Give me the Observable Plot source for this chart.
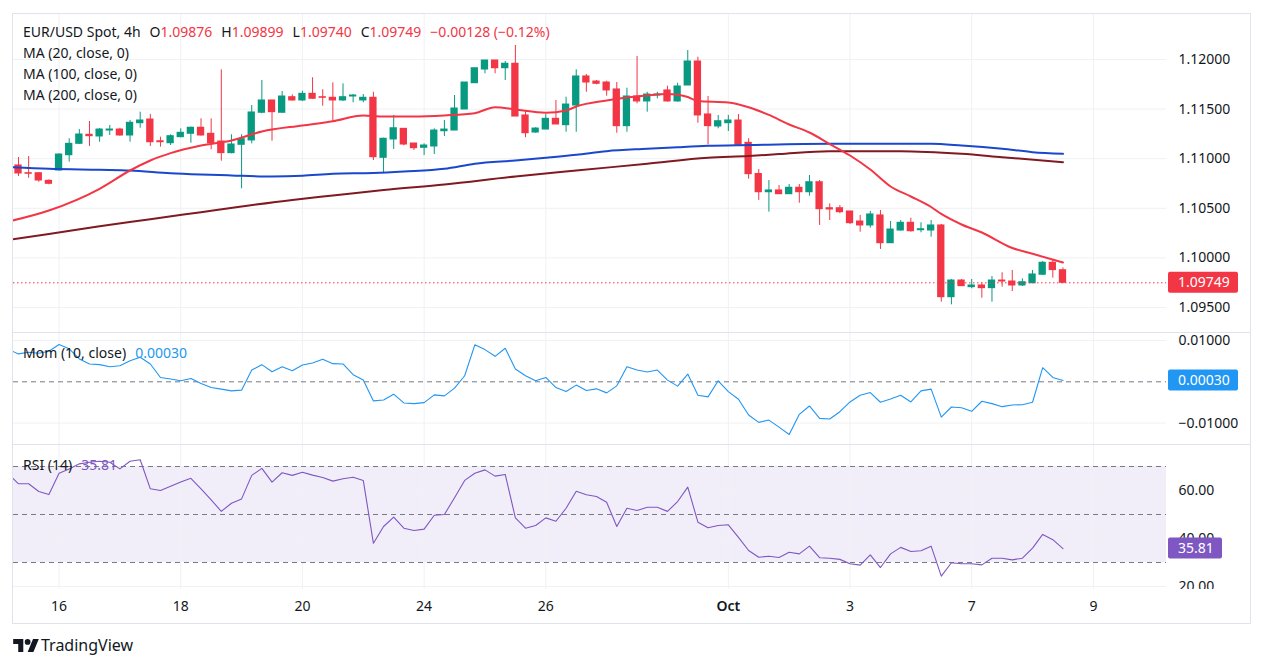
<!DOCTYPE html>
<html>
<head>
<meta charset="utf-8">
<script src="https://cdn.jsdelivr.net/npm/d3@7"></script>
<script src="https://cdn.jsdelivr.net/npm/@observablehq/plot@0.6"></script>
<style>
  html, body { margin: 0; padding: 0; background: #ffffff; }
  body { font-family: "Noto Sans", "Open Sans", "DejaVu Sans", sans-serif; color: #131722; }
  #root { position: relative; width: 1263px; height: 668px; overflow: hidden; }
  .frame { position: absolute; left: 12px; top: 13px; width: 1239px; height: 611px; box-sizing: border-box; border: 1px solid #e0e3eb; }
  .sep { position: absolute; left: 12px; width: 1239px; height: 1px; background: #e0e3eb; }
  .pane { position: absolute; left: 12px; width: 1238px; }
  .pane svg { display: block; }
  .lg { position: absolute; left: 23px; font-size: 14px; line-height: 20px; white-space: pre; color: #131722; }
  .gap { display: inline-block; width: 9px; }
  .logo { position: absolute; left: 13px; top: 639px; }
  .brand { position: absolute; left: 41px; top: 635px; font-size: 16px; line-height: 20px; color: #131722; }
</style>
</head>
<body>
<div id="root">
  <div class="frame"></div>
</div>
<script>
// ---------------- DATA ----------------
const priceTicks = [1.095, 1.100, 1.105, 1.110, 1.115, 1.120];
const momTicks = [-0.01, 0.01];
const rsiTicks = [20, 40, 60];
const rsiLevels = [30, 50, 70];
const rsiBand = [30, 70];
const tickIdx = [4, 16, 28, 40, 52, 70, 82, 94, 106];
const tickLabels = ["16", "18", "20", "24", "26", "Oct", "3", "7", "9"];

const opens = [1.10932,1.10854,1.10854,1.10777,1.10881,1.11035,1.11150,1.11241,1.11224,1.11284,
1.11294,1.11234,1.11358,1.11395,1.11176,1.11156,1.11217,1.11251,1.11312,1.11251,
1.11173,1.11056,1.11140,1.11184,1.11463,1.11587,1.11463,1.11620,1.11587,1.11654,
1.11620,1.11614,1.11587,1.11627,1.11587,1.11614,1.11009,1.11194,1.11301,1.11153,
1.11110,1.11123,1.11277,1.11284,1.11496,1.11761,1.11899,1.11990,1.11912,1.11957,
1.11436,1.11264,1.11294,1.11402,1.11338,1.11536,1.11829,1.11778,1.11768,1.11698,
1.11328,1.11627,1.11577,1.11637,1.11688,1.11577,1.11738,1.11980,1.11446,1.11325,
1.11358,1.11385,1.11160,1.10846,1.10662,1.10680,1.10642,1.10707,1.10662,1.10763,
1.10501,1.10501,1.10468,1.10367,1.10327,1.10428,1.10148,1.10276,1.10354,1.10279,
1.10276,1.10327,1.09604,1.09772,1.09705,1.09722,1.09695,1.09772,1.09762,1.09722,
1.09745,1.09830,1.09951,1.09876];
const highs = [1.11012,1.11022,1.10861,1.10787,1.11049,1.11201,1.11294,1.11375,1.11304,1.11335,
1.11307,1.11385,1.11469,1.11446,1.11217,1.11241,1.11301,1.11318,1.11402,1.11402,
1.11896,1.11241,1.11241,1.11536,1.11788,1.11587,1.11677,1.11644,1.11680,1.11816,
1.11695,1.11765,1.11755,1.11647,1.11647,1.11670,1.11207,1.11436,1.11301,1.11153,
1.11150,1.11301,1.11385,1.11637,1.11768,1.11912,1.11990,1.11990,1.11980,1.12141,
1.11486,1.11312,1.11446,1.11587,1.11620,1.11896,1.11849,1.11788,1.11781,1.11768,
1.11711,1.12030,1.11670,1.11670,1.11731,1.11761,1.12091,1.12023,1.11627,1.11436,
1.11436,1.11446,1.11201,1.10891,1.10780,1.10730,1.10740,1.10740,1.10831,1.10780,
1.10545,1.10528,1.10468,1.10428,1.10468,1.10478,1.10367,1.10377,1.10400,1.10354,
1.10377,1.10337,1.09782,1.09782,1.09782,1.09745,1.09813,1.09850,1.09873,1.09789,
1.09873,1.09964,1.09974,1.09899];
const lows = [1.10821,1.10803,1.10763,1.10737,1.10874,1.10965,1.11143,1.11123,1.11166,1.11234,
1.11227,1.11166,1.11307,1.11123,1.11116,1.11133,1.11211,1.11156,1.11227,1.11090,
1.10975,1.11049,1.10697,1.11150,1.11453,1.11176,1.11459,1.11580,1.11577,1.11597,
1.11529,1.11375,1.11577,1.11564,1.11564,1.10982,1.10848,1.11093,1.11130,1.11083,
1.11032,1.11042,1.11224,1.11284,1.11496,1.11761,1.11856,1.11856,1.11788,1.11425,
1.11211,1.11257,1.11294,1.11345,1.11267,1.11267,1.11670,1.11745,1.11630,1.11257,
1.11267,1.11553,1.11469,1.11604,1.11570,1.11570,1.11738,1.11358,1.11140,1.11301,
1.11274,1.11123,1.10793,1.10579,1.10461,1.10642,1.10642,1.10551,1.10622,1.10327,
1.10377,1.10445,1.10337,1.10259,1.10300,1.10085,1.10148,1.10269,1.10259,1.10253,
1.10209,1.09554,1.09527,1.09715,1.09689,1.09594,1.09554,1.09705,1.09661,1.09712,
1.09739,1.09824,1.09796,1.09740];
const closes = [1.10851,1.10848,1.10780,1.10747,1.11042,1.11150,1.11244,1.11227,1.11294,1.11294,
1.11234,1.11362,1.11385,1.11166,1.11166,1.11227,1.11261,1.11312,1.11234,1.11156,
1.11056,1.11143,1.11197,1.11466,1.11587,1.11469,1.11627,1.11587,1.11654,1.11604,
1.11614,1.11587,1.11620,1.11637,1.11614,1.11015,1.11201,1.11307,1.11143,1.11106,
1.11133,1.11284,1.11294,1.11506,1.11768,1.11912,1.11990,1.11912,1.11957,1.11425,
1.11257,1.11304,1.11402,1.11345,1.11546,1.11829,1.11768,1.11755,1.11688,1.11328,
1.11627,1.11577,1.11647,1.11647,1.11577,1.11728,1.11980,1.11436,1.11328,1.11378,
1.11385,1.11140,1.10844,1.10662,1.10680,1.10642,1.10707,1.10662,1.10763,1.10491,
1.10488,1.10461,1.10350,1.10327,1.10438,1.10148,1.10286,1.10354,1.10269,1.10289,
1.10327,1.09604,1.09772,1.09715,1.09722,1.09695,1.09772,1.09762,1.09722,1.09755,
1.09833,1.09951,1.09877,1.09749];

const ma20Idx = [-1,3,8,11,13,15,18,21,24,28,31,34,36,39,42,45,47,49,52,54,55,58,62,64,65,66,67,70,72,74,76,78,80,82,84,86,88,90,91,93,95,98,100,103];
const ma20Val = [1.10367,1.10478,1.10697,1.10881,1.10982,1.11056,1.11133,1.11184,1.11274,1.11335,1.11378,1.11436,1.11425,1.11425,1.11436,1.11459,1.11519,1.11496,1.11463,1.11486,1.11526,1.11587,1.11637,1.11652,1.11644,1.11622,1.11582,1.11567,1.11519,1.11441,1.11345,1.11264,1.11148,1.11032,1.10891,1.10720,1.10619,1.10513,1.10443,1.10337,1.10256,1.10100,1.10041,1.09954];
const ma100Idx = [-1,3,8,11,15,18,21,25,28,31,35,38,42,45,49,52,55,58,62,65,68,72,80,90,93,97,100,103];
const ma100Val = [1.10916,1.10898,1.10888,1.10881,1.10854,1.10841,1.10831,1.10821,1.10828,1.10848,1.10856,1.10871,1.10898,1.10949,1.10982,1.11009,1.11039,1.11076,1.11100,1.11116,1.11130,1.11138,1.11150,1.11150,1.11133,1.11100,1.11066,1.11049];
const ma200Idx = [-1,3,8,13,18,22,27,31,36,42,49,55,62,68,72,75,80,87,93,97,103];
const ma200Val = [1.10181,1.10241,1.10320,1.10390,1.10461,1.10518,1.10584,1.10629,1.10685,1.10740,1.10821,1.10881,1.10949,1.11009,1.11027,1.11047,1.11076,1.11076,1.11049,1.11015,1.10965];

// momentum and RSI start one bar before the first visible candle (index -1)
const seriesStart = -1;
const momentum = [0.00783,0.00676,0.00715,0.00690,0.00739,0.00902,0.00798,0.00554,0.00432,0.00415,
0.00366,0.00390,0.00512,0.00593,0.00432,0.00105,0.00066,0.00024,0.00080,-0.00041,
-0.00139,-0.00178,-0.00220,-0.00202,0.00285,0.00415,0.00244,0.00366,0.00268,0.00407,
0.00456,0.00544,0.00439,0.00432,0.00171,0.00041,-0.00463,-0.00439,-0.00300,-0.00512,
-0.00529,-0.00505,-0.00317,-0.00341,-0.00154,0.00146,0.00895,0.00780,0.00617,0.00812,
0.00310,0.00146,0.00024,0.00105,-0.00139,-0.00237,-0.00080,-0.00212,-0.00171,-0.00268,
-0.00098,0.00366,0.00285,0.00237,0.00285,0.00041,-0.00105,0.00188,-0.00324,-0.00366,
0.00024,-0.00237,-0.00422,-0.00805,-0.00983,-0.00927,-0.01098,-0.01276,-0.00788,-0.00585,
-0.00885,-0.00902,-0.00724,-0.00488,-0.00324,-0.00261,-0.00495,-0.00415,-0.00324,-0.00488,
-0.00220,-0.00178,-0.00854,-0.00610,-0.00627,-0.00715,-0.00471,-0.00529,-0.00602,-0.00561,
-0.00554,-0.00495,0.00341,0.00105,0.00030];
const rsi = [66.8,62.8,62.8,59.6,58.3,67.2,69.0,71.1,71.8,72.2,
71.8,69.0,72.2,72.8,60.7,60.0,61.8,63.5,65.1,60.7,
56.1,51.3,54.7,56.5,66.3,69.2,63.5,67.4,66.3,67.6,
66.4,65.4,63.9,64.9,65.5,64.2,38.0,45.0,48.9,44.3,
43.3,43.9,49.7,50.0,57.0,64.2,67.2,68.6,66.0,66.7,
48.6,44.3,45.4,48.6,47.2,52.6,59.7,58.2,57.5,55.1,
45.0,52.6,51.7,53.0,53.0,51.3,55.4,61.4,46.8,44.5,
45.4,45.7,40.5,35.0,32.2,32.6,32.1,34.3,33.6,36.8,
32.0,31.8,31.3,29.5,28.9,33.2,27.9,33.6,36.3,34.6,
34.9,36.8,24.3,29.9,29.5,29.5,29.0,31.8,31.8,31.1,
31.8,36.0,41.7,39.5,35.81];

const title = "EUR/USD Spot, 4h";
const ohlcKeys = ["O", "H", "L", "C"];
const changeText = "\u22120.00128 (\u22120.12%)";
const maLabels = ["MA (20, close, 0)", "MA (100, close, 0)", "MA (200, close, 0)"];
const momLabel = "Mom (10, close)";
const rsiLabel = "RSI (14)";

// ---------------- STYLE ----------------
const GREEN = "#089981", RED = "#f23645", GRID = "#f0f1f4", TEXT = "#131722";
const BLUE_MA = "#1a47cc", MAROON = "#801922", MOM = "#2196f3", PURPLE = "#7e57c2", DASH = "#787b86";
const FONT = '"Noto Sans", "Open Sans", "DejaVu Sans", sans-serif';
const W = 1238, ML = 1, MR = 84;
const xDomain = [-0.493, 113.21];
const root = document.getElementById("root");

const minus = s => s.replace("-", "\u2212");
const last = closes.length - 1;

function tag(value, label, color, w) {
  return (index, scales, values, dims) => {
    const y = scales.y(value);
    const x0 = dims.width - dims.marginRight + 2;
    const g = d3.create("svg:g");
    g.append("rect").attr("x", x0).attr("y", y - 10.5).attr("width", w).attr("height", 21)
      .attr("rx", 2).attr("fill", color);
    g.append("text").attr("x", x0 + 10).attr("y", y).attr("dy", "0.35em")
      .attr("text-anchor", "start")
      .attr("fill", "#ffffff").attr("font-size", 14).attr("font-family", FONT).text(label);
    return g.node();
  };
}

function pane(top, height, yDomain, yRange, marks, overflow) {
  const svg = Plot.plot({
    width: W, height,
    marginLeft: ML, marginRight: MR, marginTop: 0, marginBottom: 0,
    x: {type: "linear", domain: xDomain, axis: null},
    y: {type: "linear", domain: yDomain, range: yRange, axis: null},
    color: {type: "identity"},
    style: {fontFamily: FONT, fontSize: "14px", color: TEXT, background: "transparent", overflow: overflow || "hidden"},
    marks
  });
  const div = document.createElement("div");
  div.className = "pane";
  div.style.top = top + "px";
  div.style.height = height + "px";
  div.appendChild(svg);
  root.appendChild(div);
}

function sep(top) {
  const d = document.createElement("div");
  d.className = "sep"; d.style.top = top + "px";
  root.appendChild(d);
}

const candles = opens.map((o, i) => ({i, o, h: highs[i], l: lows[i], c: closes[i], up: closes[i] >= o}));
const ma20 = ma20Idx.map((x, k) => ({x, y: ma20Val[k]}));
const ma100 = ma100Idx.map((x, k) => ({x, y: ma100Val[k]}));
const ma200 = ma200Idx.map((x, k) => ({x, y: ma200Val[k]}));

// ---------------- PRICE PANE ----------------
pane(14, 318, [1.095, 1.12], [293, 45], [
  Plot.ruleY(priceTicks, {stroke: GRID}),
  Plot.ruleX(tickIdx, {stroke: GRID}),
  Plot.ruleX(candles, {x: "i", y1: "l", y2: "h", stroke: d => d.up ? GREEN : RED, strokeWidth: 1}),
  Plot.rect(candles, {x1: d => d.i - 0.36, x2: d => d.i + 0.36,
    y1: d => Math.min(d.o, d.c), y2: d => Math.max(d.o, d.c),
    fill: d => d.up ? GREEN : RED, insetTop: -0.5, insetBottom: -0.5}),
  Plot.line(ma200, {x: "x", y: "y", stroke: MAROON, strokeWidth: 2, curve: "monotone-x", clip: true}),
  Plot.line(ma100, {x: "x", y: "y", stroke: BLUE_MA, strokeWidth: 2, curve: "monotone-x", clip: true}),
  Plot.line(ma20, {x: "x", y: "y", stroke: RED, strokeWidth: 2, curve: "monotone-x", clip: true}),
  Plot.ruleY([closes[last]], {stroke: RED, strokeDasharray: "1.5,2.5", strokeWidth: 1}),
  Plot.axisY({ticks: priceTicks, anchor: "right", tickSize: 0, tickPadding: 12,
    tickFormat: d => d.toFixed(5), label: null, fill: TEXT}),
  tag(closes[last], closes[last].toFixed(5), RED, 70)
]);
sep(332);

// ---------------- MOMENTUM PANE ----------------
pane(333, 111, [-0.01, 0.01], [89.6, 7], [
  Plot.ruleY(momTicks, {stroke: GRID}),
  Plot.ruleX(tickIdx, {stroke: GRID}),
  Plot.ruleY([0], {stroke: DASH, strokeDasharray: "5,4"}),
  Plot.line(momentum, {x: (d, i) => i + seriesStart, y: d => d, stroke: MOM, strokeWidth: 1.1, clip: true}),
  Plot.axisY({ticks: momTicks, anchor: "right", tickSize: 0, tickPadding: 12,
    tickFormat: d => minus(d.toFixed(5)), label: null, fill: TEXT}),
  tag(momentum[momentum.length - 1], momentum[momentum.length - 1].toFixed(5), MOM, 70)
], "visible");
sep(444);

// ---------------- RSI PANE ----------------
pane(445, 144, [20, 60], [141, 45], [
  Plot.rect([rsiBand], {y1: d => d[0], y2: d => d[1], fill: PURPLE, fillOpacity: 0.1}),
  Plot.ruleY(rsiTicks, {stroke: GRID}),
  Plot.ruleX(tickIdx, {stroke: GRID}),
  Plot.ruleY(rsiLevels, {stroke: DASH, strokeDasharray: "5,4"}),
  Plot.line(rsi, {x: (d, i) => i + seriesStart, y: d => d, stroke: PURPLE, strokeWidth: 1.1, clip: true}),
  Plot.axisY({ticks: rsiTicks, anchor: "right", tickSize: 0, tickPadding: 12,
    tickFormat: d => d.toFixed(2), label: null, fill: TEXT}),
  tag(rsi[rsi.length - 1], rsi[rsi.length - 1].toFixed(2), PURPLE, 54)
]);

// ---------------- TIME AXIS ----------------
{
  const ticks = tickIdx.map((x, k) => ({x, label: tickLabels[k], month: isNaN(+tickLabels[k])}));
  const svg = Plot.plot({
    width: W, height: 33, marginLeft: ML, marginRight: MR, marginTop: 0, marginBottom: 0,
    x: {type: "linear", domain: xDomain, axis: null},
    style: {fontFamily: FONT, fontSize: "14px", color: TEXT, background: "transparent", overflow: "hidden"},
    marks: [
      Plot.text(ticks.filter(d => !d.month), {x: "x", text: "label", frameAnchor: "middle", fill: TEXT}),
      Plot.text(ticks.filter(d => d.month), {x: "x", text: "label", frameAnchor: "middle", fill: TEXT, fontWeight: 600})
    ]
  });
  const div = document.createElement("div");
  div.className = "pane"; div.style.top = "590px"; div.style.height = "33px";
  div.appendChild(svg);
  root.appendChild(div);
}

// ---------------- LEGENDS ----------------
function legend(top, parts) {
  const d = document.createElement("div");
  d.className = "lg"; d.style.top = top + "px";
  parts.forEach(p => {
    if (p === null) { const g = document.createElement("span"); g.className = "gap"; d.appendChild(g); return; }
    const s = document.createElement("span");
    s.textContent = p.t;
    if (p.c) s.style.color = p.c;
    d.appendChild(s);
  });
  root.appendChild(d);
}
const ohlcVals = [opens[last], highs[last], lows[last], closes[last]];
const head = [{t: title}];
ohlcKeys.forEach((k, j) => { head.push(null, {t: k}, {t: ohlcVals[j].toFixed(5), c: RED}); });
head.push(null, {t: changeText, c: RED});
legend(22, head);
maLabels.forEach((t, k) => legend(43 + 21 * k, [{t}]));
legend(343, [{t: momLabel}, null, {t: momentum[momentum.length - 1].toFixed(5), c: MOM}]);
legend(455, [{t: rsiLabel}, null, {t: rsi[rsi.length - 1].toFixed(2), c: PURPLE}]);

// ---------------- BRAND ----------------
root.insertAdjacentHTML("beforeend",
  '<svg class="logo" width="26" height="13" viewBox="0 4 35.5 18"><path fill="#131722" d="M14 22H7V11H0V4h14v18zM28 22h-8l7.5-18h8L28 22z"/><circle fill="#131722" cx="20" cy="8" r="4"/></svg>' +
  '<div class="brand">TradingView</div>');
</script>
</body>
</html>
